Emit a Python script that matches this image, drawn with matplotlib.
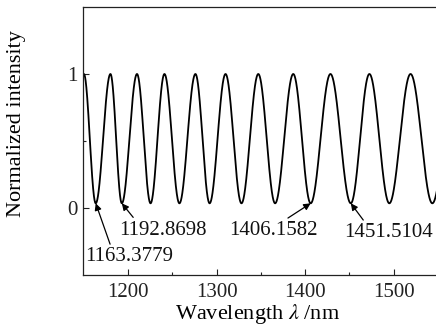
import numpy as np
import matplotlib
matplotlib.use('Agg')
import matplotlib.pyplot as plt

# Extrema of the fringe pattern (nm)
maxima_nm = [1150.0, 1180.0, 1210.0, 1241.0, 1276.0, 1310.0, 1347.0,
             1386.5, 1428.5, 1472.5, 1519.0, 1569.0]
minima_nm = [1163.3779, 1192.8698, 1225.3, 1257.9, 1292.0, 1328.0, 1366.0,
             1406.1582, 1451.5104, 1495.0, 1543.6]
max_level = 1.0
min_level = 0.035

labelled_minima = [1163.3779, 1192.8698, 1406.1582, 1451.5104]
label_texts = ['1163.3779', '1192.8698', '1406.1582', '1451.5104']
label_pos = [(1151.0, -0.36), (1189.5, -0.165), (1314.5, -0.165), (1444.0, -0.18)]
arrow_tails = [(1179.6, -0.27), (1205.7, -0.07), (1380.5, -0.075), (1465.6, -0.09)]

x_ticks = [1200, 1300, 1400, 1500]
x_minor = [1250, 1350, 1450]
y_ticks = [0, 1]
y_minor = [0.5]

plt.rcParams['font.family'] = ['Liberation Serif', 'DejaVu Serif']
plt.rcParams['mathtext.fontset'] = 'stix'

fig = plt.figure(figsize=(4.36, 3.26), dpi=100)
ax = fig.add_axes([83 / 436, 1 - 275 / 326, (438 - 83) / 436, (275 - 7) / 326])

extrema = np.array(sorted(maxima_nm + minima_nm))
phases = np.arange(len(extrema)) * np.pi
wl = np.linspace(1149, 1550, 4000)
ph = np.interp(wl, extrema, phases)
intensity = min_level + (max_level - min_level) * (1 + np.cos(ph)) / 2
ax.plot(wl, intensity, color='black', lw=1.3)

ax.set_xlim(1149, 1550)
ax.set_ylim(-0.5, 1.5)
ax.set_xticks(x_ticks)
ax.set_xticks(x_minor, minor=True)
ax.set_yticks(y_ticks)
ax.set_yticks(y_minor, minor=True)
ax.tick_params(which='major', direction='in', length=4.5, width=0.8,
               labelsize=15, colors='#222222')
ax.tick_params(axis='x', which='major', pad=6)
ax.tick_params(axis='y', which='major', pad=4)
ax.tick_params(which='minor', direction='in', length=2.5, width=0.8, colors='#222222')
for s in ax.spines.values():
    s.set_linewidth(0.9)
    s.set_color('#222222')

for xm, txt, (tx, ty), (ax_, ay_) in zip(labelled_minima, label_texts, label_pos, arrow_tails):
    ax.annotate('', xy=(xm, min_level), xytext=(ax_, ay_),
                arrowprops=dict(arrowstyle='-|>', color='black', lw=0.9,
                                mutation_scale=10, shrinkA=0, shrinkB=0))
    ax.text(tx, ty, txt, fontsize=15, ha='left', va='center', color='#111111')

ax.set_xlabel('Wavelength $\\lambda$ /nm', fontsize=16)
ax.xaxis.set_label_coords((258 - 83) / 355, (275 - 302) / 268)
ax.set_ylabel('Normalized intensity', fontsize=16)
ax.yaxis.set_label_coords((16 - 83) / 355, (275 - 124) / 268)
ax.yaxis.label.set_va('center')

fig.savefig('out.png', dpi=100)
